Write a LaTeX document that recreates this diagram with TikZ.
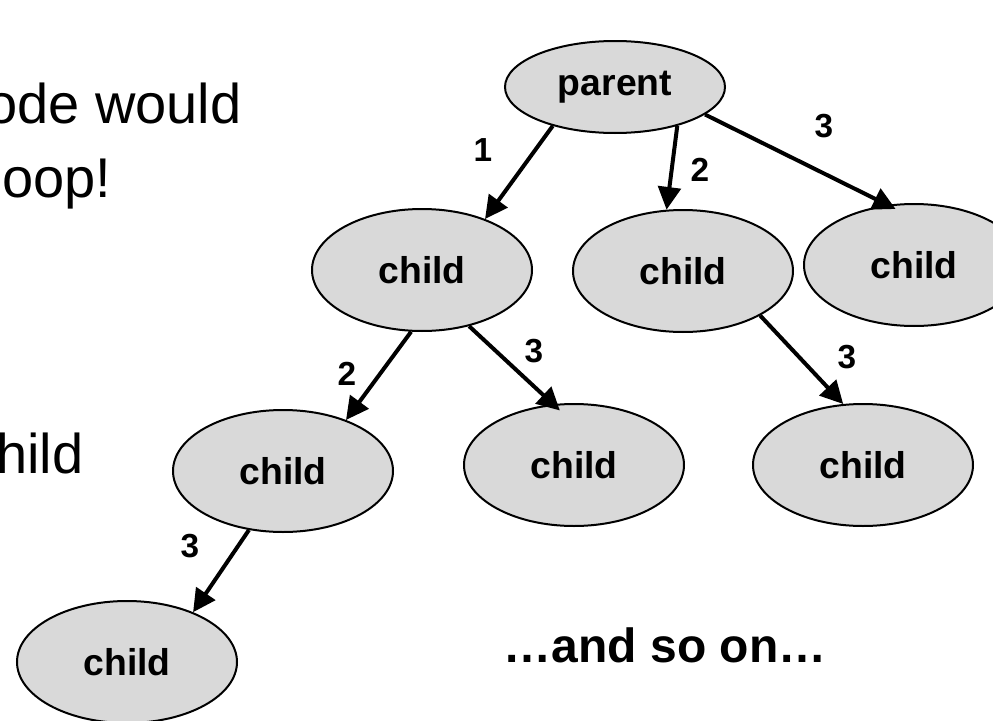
\documentclass[tikz,border=0pt]{standalone}
\usepackage{fontspec}
\setmainfont{Liberation Sans}
\usetikzlibrary{shapes,arrows.meta,calc,positioning}

\definecolor{nodegray}{RGB}{217,217,217}
\tikzset{
	treenode/.style={ellipse,draw,line width=1.5pt,fill=nodegray,minimum width=165pt,minimum height=91.5pt,inner sep=0pt,font=\bfseries\fontsize{28}{32}\selectfont},
	treeedge/.style={line width=3pt,-{Triangle[length=17pt,width=17pt]}},
	edgelabel/.style={inner sep=0pt,font=\bfseries\fontsize{25}{30}\selectfont},
	sidetext/.style={anchor=base west,inner sep=0pt,font=\fontsize{42}{50}\selectfont}
}

\begin{document}
\begin{tikzpicture}[x=0.75pt,y=-0.75pt]
	\useasboundingbox (0,0) rectangle (993,721);
	\clip (0,0) rectangle (993,721);

	% text cut off at the left margin
	\node[sidetext] (t1) at (-14,123)	{ode would};
	\node[sidetext] (t2) at (2,197)		{oop!};
	\node[sidetext] (t3) at (-4,473)	{hild};

	\node[treenode,minimum height=69pt] (p) at (615,87) {parent};
	\node[treenode] (c1) at (422,270)	{child};
	\node[treenode] (c2) at (683,271)	{child};
	\node[treenode] (c3) at (914,265)	{child};
	\node[treenode] (d1) at (283,471)	{child};
	\node[treenode] (d2) at (574,465)	{child};
	\node[treenode] (d3) at (863,465)	{child};
	\node[treenode] (e1) at (127,662)	{child};

	\draw[treeedge]					(p.212) -- (c1.39);
	\draw[treeedge]					(p.328) -- (c2.105);
	\draw[treeedge,shorten >=-7pt]	(p.343) -- (c3.114);
	\draw[treeedge]					(c1.260) -- (d1.39);
	\draw[treeedge,shorten >=-7pt]	(c1.310) -- (d2.109);
	\draw[treeedge]					(c2.330) -- (d3.108);
	\draw[treeedge]					(d1.240) -- (e1.37);

	\node[edgelabel] (l1) at (483,150)	{1};
	\node[edgelabel] (l2) at (700,170)	{2};
	\node[edgelabel] (l3) at (824,126)	{3};
	\node[edgelabel] (l4) at (347,374)	{2};
	\node[edgelabel] (l5) at (534,351)	{3};
	\node[edgelabel] (l6) at (847,357)	{3};
	\node[edgelabel] (l7) at (190,546)	{3};

	\node[anchor=base,inner sep=0pt,font=\bfseries\fontsize{36}{40}\selectfont] (more) at (665,662) {…and so on…};
\end{tikzpicture}
\end{document}
